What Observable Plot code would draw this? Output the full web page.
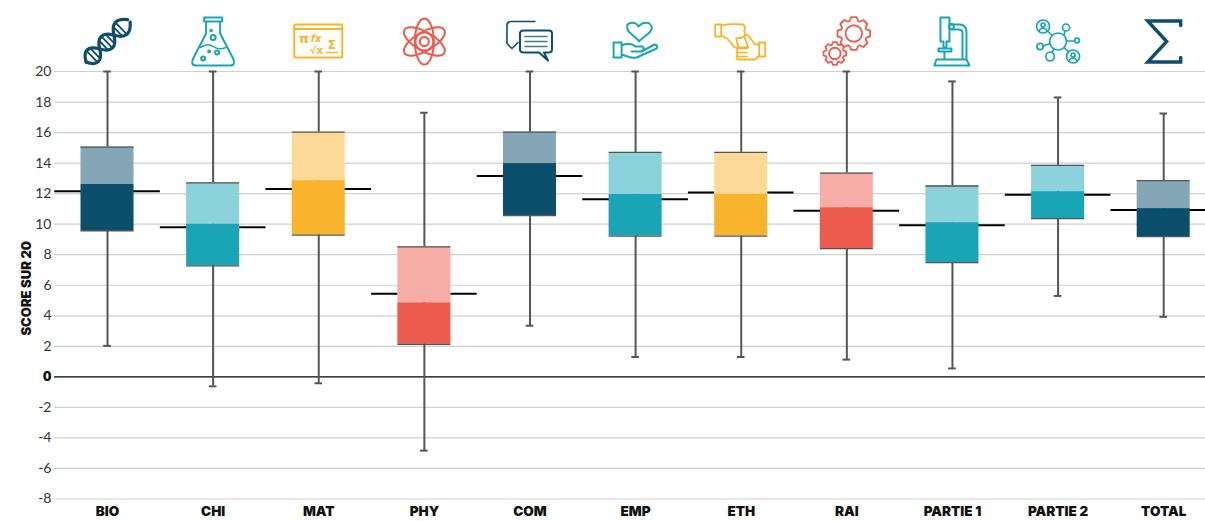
<!DOCTYPE html>
<html lang="fr">
<head>
<meta charset="utf-8">
<style>
html,body{margin:0;padding:0;background:#fff;overflow:hidden}
svg{display:block}
</style>
<script src="https://cdn.jsdelivr.net/npm/d3@7"></script>
<script src="https://cdn.jsdelivr.net/npm/@observablehq/plot@0.6"></script>
</head>
<body>
<div id="chart"></div>
<script>
const categories = ["BIO","CHI","MAT","PHY","COM","EMP","ETH","RAI","PARTIE 1","PARTIE 2","TOTAL"];
const whiskerHigh = [20,20,20,17.3,20,20,20,20,19.35,18.3,17.25];
const whiskerLow  = [2.03,-0.62,-0.42,-4.83,3.35,1.3,1.3,1.13,0.55,5.3,3.93];
const q3     = [15.05,12.7,16.03,8.52,16.03,14.7,14.7,13.35,12.5,13.85,12.85];
const median = [12.6,10,12.85,4.85,13.97,11.95,11.95,11.08,10.1,12.13,11.02];
const q1     = [9.57,7.27,9.28,2.13,10.57,9.22,9.22,8.4,7.48,10.37,9.18];
const mean   = [12.15,9.8,12.3,5.45,13.15,11.63,12.07,10.88,9.93,11.93,10.93];
const colors = ["#0b4f6c","#1aa5b7","#f9b42d","#ed5b4f","#0b4f6c","#1aa5b7","#f9b42d","#ed5b4f","#1aa5b7","#1aa5b7","#0b4f6c"];
const yTicks = [-8,-6,-4,-2,2,4,6,8,10,12,14,16,18,20];

const rows = categories.map((c,i)=>({c,color:colors[i],hi:whiskerHigh[i],lo:whiskerLow[i],q3:q3[i],med:median[i],q1:q1[i],mean:mean[i]}));

function gear(cx,cy,r,n){
  const pts=[];
  for(let i=0;i<n;i++){
    const a=i/n*2*Math.PI, w=Math.PI/n*0.55;
    [[a-w*1.5,r*0.8],[a-w*0.8,r],[a+w*0.8,r],[a+w*1.5,r*0.8]].forEach(([t,d])=>pts.push((cx+d*Math.cos(t)).toFixed(1)+" "+(cy+d*Math.sin(t)).toFixed(1)));
  }
  return `<path d="M${pts.join("L")}Z"/><circle cx="${cx}" cy="${cy}" r="${r*0.5}"/>`;
}
const iconBodies = [
 // DNA
 `<g transform="rotate(-44 30 30) translate(3 3) scale(.9)" stroke-width="3.6"><path d="M-3 30C3 18 11 18 18 30S33 42 40 30 55 18 63 28"/><path d="M-3 30C3 42 11 42 18 30S33 18 40 30 55 42 63 32" />
  <path stroke-width="2" d="M6 23V37M11 22V38M24 36V24M29 38V22M34 37V23M46 24V36M51 23V37"/></g>`,
 // Flask
 `<path d="M21 6H39V10H21ZM23 10V22L10 47Q7 54 13 54H47Q53 54 50 47L37 22V10"/><path stroke-width="1.6" d="M17 36Q25 31 30 35T43 36"/><circle cx="20" cy="47" r="2" /><circle cx="34" cy="41" r="2"/><circle cx="26" cy="40" r="1"/><circle cx="30" cy="26" r="2.5"/><circle cx="28" cy="19" r=".8"/>`,
 // Math
 `<rect x="5.5" y="13" width="48" height="33" rx="1"/><path d="M5.5 17.5H53.5"/><g fill="currentColor" stroke="none" font-family="DejaVu Sans" font-weight="700"><text x="10" y="31" font-size="13">π</text><text x="22" y="30" font-size="10" font-style="italic">fx</text><text x="21" y="42" font-size="10">√x</text><text x="39" y="37" font-size="12">Σ</text></g><path stroke-width="1.4" d="M38 41H49"/>`,
 // Atom
 `<g stroke-width="2"><ellipse cx="30" cy="30" rx="23" ry="9.5" transform="rotate(90 30 30)"/><ellipse cx="30" cy="30" rx="23" ry="9.5" transform="rotate(30 30 30)"/><ellipse cx="30" cy="30" rx="23" ry="9.5" transform="rotate(150 30 30)"/><circle cx="30" cy="30" r="4.5"/><circle cx="30" cy="30" r="9"/></g>`,
 // Chat
 `<path stroke-width="1.6" d="M35 10H11Q7 10 7 14V32L12 37 L18 31"/><path stroke-width="2" d="M24 19H49Q52 19 52 22V38Q52 41 49 41H44L48 49 39 41H24Q20 41 20 38V22Q20 19 24 19Z"/><path stroke-width="1.6" stroke-opacity=".75" d="M25 25H47M25 30H47M25 35H47"/>`,
 // Hand and heart
 `<path stroke-width="2" d="M33 29L23 20Q19 13 25 11.5 30 10.5 33 15 37 10 43 11.5 49 15 44 21L33 30"/><path stroke-width="2" d="M8 31H16V46H8ZM16 34Q24 30 30 35H37Q40 38 35 40H26M36 40L49 33Q53 34 51 37L31 46Q27 47 22 45L16 43"/>`,
 // Thumbs
 `<path stroke-width="1.8" d="M4 13H10V25H4ZM10 14Q18 12 32 13 35 16 33 19 35 25 31 26 25 27 25 27L27 35Q24 38 21 33L16 27 10 24"/><path stroke-width="1.8" d="M54 31H48V45H54ZM48 33H44L37 24Q34 22 33 25L37 36H26V48H44L48 44"/><path stroke-width="1.4" d="M25 37H36M25 41H36M25 45H36"/>`,
 // Gears
 `<g stroke-width="1.8">${gear(37,22,16.5,8)}${gear(18,42,11.5,8)}</g>`,
 // Microscope
 `<path stroke-width="2" d="M18 6H27V30H24V36H21V30H18ZM28 13H38Q44 14 44 20V47M40 47V21Q40 18 36 18H29"/><circle cx="29" cy="15" r="2.5" /><path stroke-width="2" d="M16 37H29V40H16ZM22 40V47M12 54L14 48H44L47 54V54ZM12 54H47"/>`,
 // Network
 `<g stroke-width="1.7"><circle cx="30" cy="30" r="8.5"/><circle cx="15" cy="15" r="6.5"/><circle cx="15" cy="13.5" r="2"/><path d="M11 19Q15 14 19 19"/><circle cx="38" cy="16" r="3.5"/><circle cx="49" cy="29" r="2.3"/><circle cx="12" cy="35" r="3.2"/><circle cx="22" cy="45" r="4.3"/><circle cx="45" cy="45" r="6.5"/><circle cx="45" cy="43.5" r="2"/><path d="M41 49Q45 44 49 49"/><path d="M20 20L24 24M36 23L37 19.5M38.5 29.5H46.5M22 32L15 34.5M26 37L24 41M36 36L40 40"/></g>`,
 // Sigma
 `<path stroke-width="3.4" stroke-linejoin="miter" d="M47 14V9.5H14L33 30 14 50.5H47V46"/>`
];
const icons = iconBodies.map((body,i)=>"data:image/svg+xml,"+encodeURIComponent(
 `<svg xmlns="http://www.w3.org/2000/svg" viewBox="0 0 60 60" width="60" height="60" color="${colors[i]}" fill="none" stroke="${colors[i]}" stroke-width="2" stroke-linecap="round" stroke-linejoin="round">${body}</svg>`));
const iconRows = categories.map((c,i)=>({c,src:icons[i]}));

const plot = Plot.plot({
  width:1205, height:521, marginTop:71, marginBottom:22.5, marginLeft:54, marginRight:0,
  style:{fontFamily:"Lato, sans-serif", background:"#fff"},
  x:{type:"band", domain:categories, padding:0, round:false, range:[54.2,1216], label:null},
  y:{domain:[-8,20], label:null},
  marks:[
    Plot.ruleY([...yTicks],{stroke:"#cfcfcf",strokeWidth:1.2}),
    Plot.ruleY([0],{stroke:"#000",strokeWidth:1.2}),
    Plot.axisY({ticks:yTicks,tickSize:0,tickPadding:3,fontSize:14,fill:"#333",tickFormat:d=>String(d).replace("−","-"),label:null}),
    Plot.axisY({ticks:[0],tickSize:0,tickPadding:3,fontSize:13,fontWeight:900,fontFamily:"Inter, sans-serif",fill:"#111",label:null}),
    Plot.text(["SCORE SUR 20"],{frameAnchor:"left",dx:-28,dy:3,rotate:-90,textAnchor:"middle",fontSize:13,fontWeight:900,fontFamily:"Inter, sans-serif",fill:"#111"}),
    Plot.axisX({tickSize:0,tickPadding:7,fontSize:13.5,fontWeight:900,fontFamily:"Inter, sans-serif",fill:"#111",label:null}),
    Plot.tickY(rows,{x:"c",y:"mean",stroke:"#000",strokeWidth:2}),
    Plot.ruleX(rows,{x:"c",y1:"lo",y2:"hi",stroke:"#555",strokeWidth:2}),
    Plot.tickY(rows,{x:"c",y:"hi",stroke:"#555",strokeWidth:2,insetLeft:49,insetRight:49}),
    Plot.tickY(rows,{x:"c",y:"lo",stroke:"#555",strokeWidth:2,insetLeft:49,insetRight:49}),
    Plot.barY(rows,{x:"c",y1:"med",y2:"q3",fill:"#fff",insetLeft:26.3,insetRight:26.3}),
    Plot.barY(rows,{x:"c",y1:"med",y2:"q3",fill:"color",fillOpacity:0.5,insetLeft:26.3,insetRight:26.3}),
    Plot.barY(rows,{x:"c",y1:"q1",y2:"med",fill:"color",insetLeft:26.3,insetRight:26.3}),
    Plot.tickY(rows,{x:"c",y:"q3",stroke:"#555",strokeWidth:1.3,insetLeft:26.3,insetRight:26.3}),
    Plot.tickY(rows,{x:"c",y:"q1",stroke:"#555",strokeWidth:1.3,insetLeft:26.3,insetRight:26.3}),
    Plot.image(iconRows,{x:"c",frameAnchor:"top",dy:-30,src:"src",width:60,height:60})
  ]
});
document.getElementById("chart").appendChild(plot);
</script>
</body>
</html>
